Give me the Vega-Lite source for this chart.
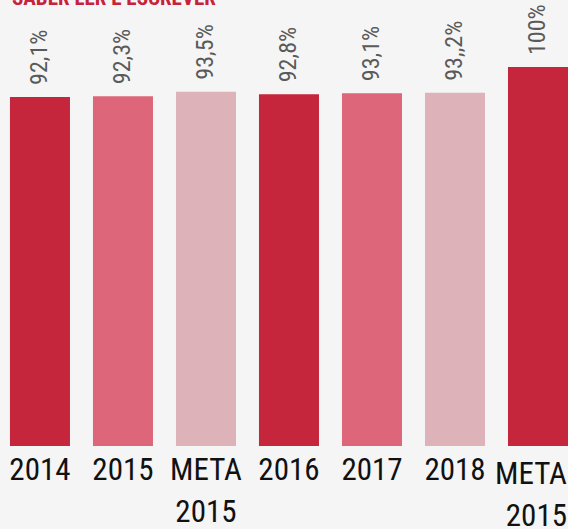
{
  "$schema": "https://vega.github.io/schema/vega-lite/v6.json",
  "width": 568,
  "height": 379,
  "autosize": {"type": "none"},
  "padding": {"left": 0, "right": 0, "top": 67, "bottom": 83},
  "background": "#f5f5f5",
  "title": {
    "text": "SABER LER E ESCREVER",
    "anchor": "start",
    "frame": "group",
    "color": "#c8223a",
    "fontSize": 21,
    "fontWeight": "bold",
    "font": "Liberation Sans Narrow, Roboto Condensed, DejaVu Sans Condensed, sans-serif",
    "baseline": "alphabetic",
    "offset": -22,
    "dx": 12
  },
  "data": {
    "values": [
      {"cat": "2014", "value": 92.1, "label": "92,1%", "serie": "a"},
      {"cat": "2015", "value": 92.3, "label": "92,3%", "serie": "b"},
      {"cat": "META 2015", "value": 93.5, "label": "93,5%", "serie": "c"},
      {"cat": "2016", "value": 92.8, "label": "92,8%", "serie": "a"},
      {"cat": "2017", "value": 93.1, "label": "93,1%", "serie": "b"},
      {"cat": "2018", "value": 93.2, "label": "93,,2%", "serie": "c"},
      {"cat": "META 2015 (2)", "value": 100, "label": "100%", "serie": "a"}
    ]
  },
  "encoding": {
    "x": {
      "field": "cat",
      "type": "nominal",
      "sort": null,
      "scale": {"paddingInner": 0.277, "paddingOuter": 0.06, "align": 1},
      "axis": {
        "title": null,
        "domain": false,
        "ticks": false,
        "grid": false,
        "labelAngle": 0,
        "labelFont": "Liberation Sans Narrow, Roboto Condensed, DejaVu Sans Condensed, sans-serif",
        "labelFontSize": 31,
        "labelColor": "#111111",
        "labelPadding": {"condition": {"test": "datum.value == 'META 2015 (2)'", "value": 13}, "value": 9},
        "labelAlign": {"condition": {"test": "datum.value == 'META 2015 (2)'", "value": "right"}, "value": "center"},
        "labelOffset": {"condition": {"test": "datum.value == 'META 2015 (2)'", "value": 29}, "value": 0},
        "labelBaseline": "top",
        "labelLineHeight": 42,
        "labelOverlap": false,
        "labelLimit": 0,
        "labelExpr": "split(replace(datum.value, ' (2)', ''), ' ')"
      }
    },
    "y": {
      "field": "value",
      "type": "quantitative",
      "scale": {"domain": [0, 100]},
      "axis": null
    }
  },
  "layer": [
    {
      "mark": {"type": "bar"},
      "encoding": {
        "color": {
          "field": "serie",
          "type": "nominal",
          "scale": {"domain": ["a", "b", "c"], "range": ["#c5263c", "#dd667a", "#ddb2b9"]},
          "legend": null
        }
      }
    },
    {
      "mark": {
        "type": "text",
        "angle": 270,
        "align": "left",
        "baseline": "middle",
        "dx": 12,
        "font": "Liberation Sans Narrow, Roboto Condensed, DejaVu Sans Condensed, sans-serif",
        "fontSize": 24,
        "color": "#5a5a5a"
      },
      "encoding": {"text": {"field": "label"}}
    }
  ],
  "config": {"view": {"stroke": null}}
}
